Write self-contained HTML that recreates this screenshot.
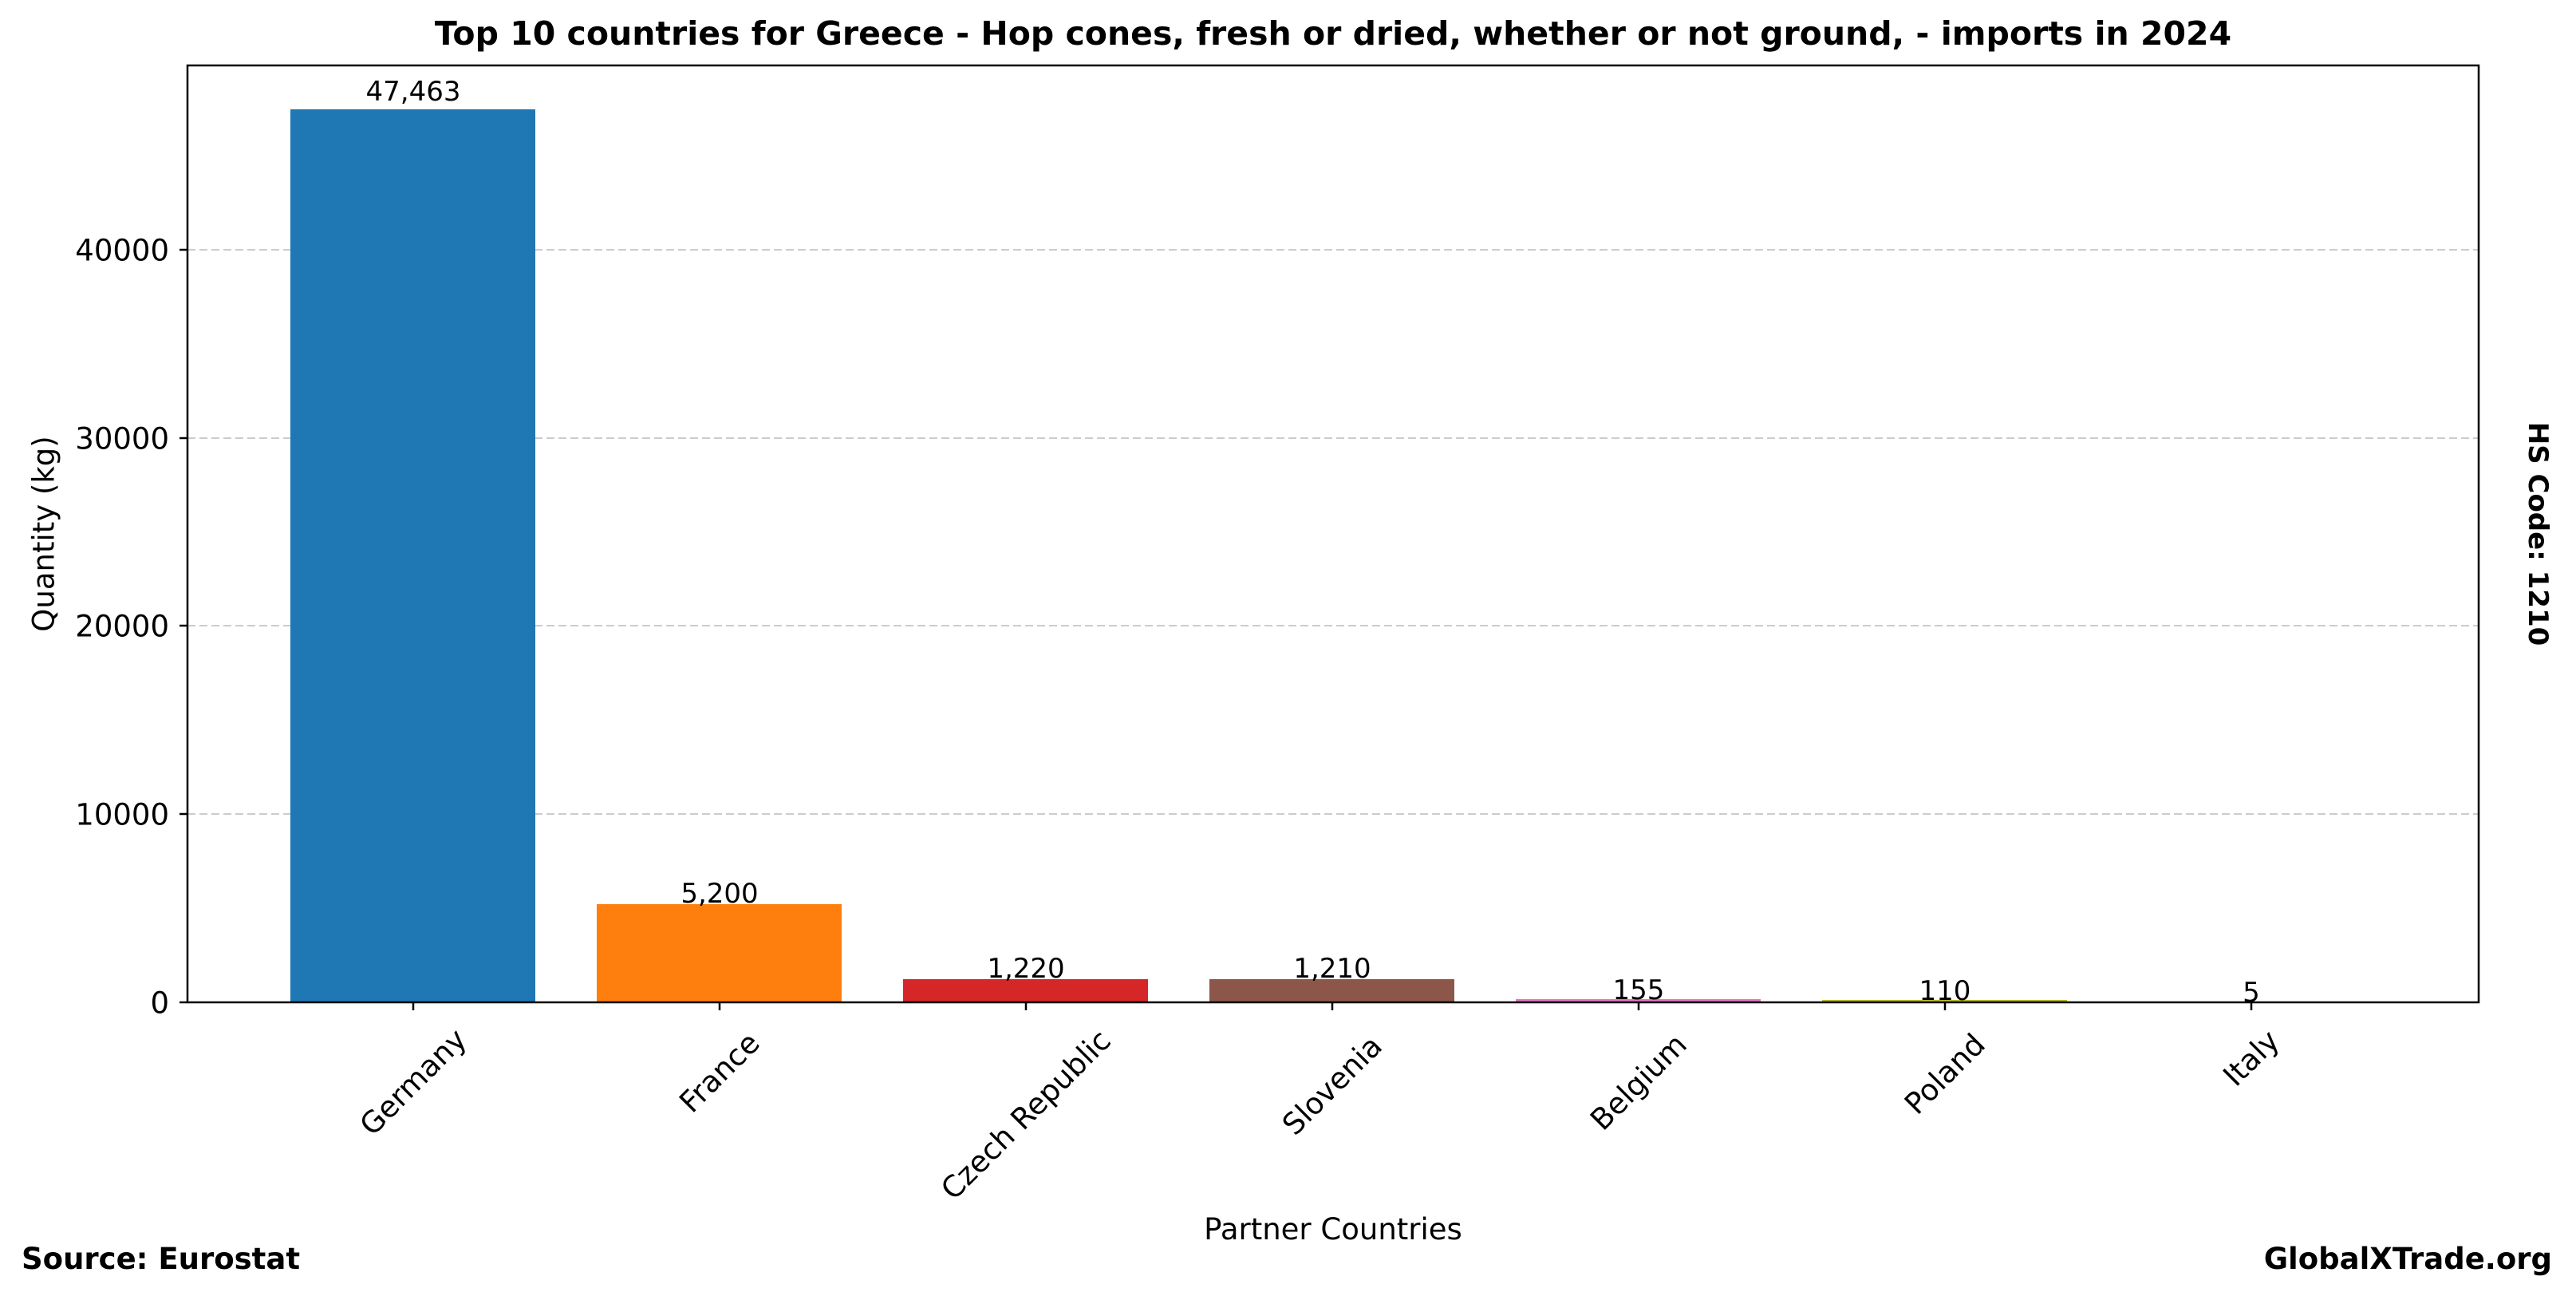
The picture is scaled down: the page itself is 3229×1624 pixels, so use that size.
<!DOCTYPE html>
<html><head><meta charset="utf-8"><style>
html,body{margin:0;padding:0;background:#fff}
svg{display:block}
text{font-family:"DejaVu Sans","Liberation Sans",sans-serif;fill:#000}
</style></head><body>
<svg width="3229" height="1624" viewBox="0 0 3229 1624" xmlns="http://www.w3.org/2000/svg">
<rect width="3229" height="1624" fill="#fff"/>
<text x="1671" y="56" font-size="41" font-weight="bold" text-anchor="middle">Top 10 countries for Greece - Hop cones, fresh or dried, whether or not ground, - imports in 2024</text>
<g stroke="#cccccc" stroke-width="2" stroke-dasharray="10,5">
<line x1="235" y1="1020" x2="3107" y2="1020"/>
<line x1="235" y1="784" x2="3107" y2="784"/>
<line x1="235" y1="549" x2="3107" y2="549"/>
<line x1="235" y1="313" x2="3107" y2="313"/>
</g>
<rect x="364" y="137" width="307" height="1119" fill="#1f77b4"/>
<rect x="748" y="1133" width="307" height="123" fill="#ff7f0e"/>
<rect x="1132" y="1227" width="307" height="29" fill="#d62728"/>
<rect x="1516" y="1227" width="307" height="29" fill="#8c564b"/>
<rect x="1900" y="1252" width="307" height="4" fill="#e377c2"/>
<rect x="2284" y="1253" width="307" height="3" fill="#bcbd22"/>
<rect x="235" y="82" width="2872" height="1174" fill="none" stroke="#000" stroke-width="2.5"/>
<g stroke="#000" stroke-width="2.5">
<line x1="225" y1="1256" x2="235" y2="1256"/>
<line x1="225" y1="1020" x2="235" y2="1020"/>
<line x1="225" y1="784" x2="235" y2="784"/>
<line x1="225" y1="549" x2="235" y2="549"/>
<line x1="225" y1="313" x2="235" y2="313"/>
</g>
<g font-size="37" text-anchor="end" dominant-baseline="central">
<text x="212" y="1257">0</text>
<text x="212" y="1021">10000</text>
<text x="212" y="785">20000</text>
<text x="212" y="550">30000</text>
<text x="212" y="314">40000</text>
</g>
<g stroke="#000" stroke-width="2.5">
<line x1="518" y1="1256" x2="518" y2="1266"/>
<line x1="902" y1="1256" x2="902" y2="1266"/>
<line x1="1286" y1="1256" x2="1286" y2="1266"/>
<line x1="1670" y1="1256" x2="1670" y2="1266"/>
<line x1="2054" y1="1256" x2="2054" y2="1266"/>
<line x1="2438" y1="1256" x2="2438" y2="1266"/>
<line x1="2822" y1="1256" x2="2822" y2="1266"/>
</g>
<g font-size="37" text-anchor="middle" dominant-baseline="central">
<text transform="translate(518,1356) rotate(-45)">Germany</text>
<text transform="translate(902,1344) rotate(-45)">France</text>
<text transform="translate(1286,1397) rotate(-45)">Czech Republic</text>
<text transform="translate(1670,1360) rotate(-45)">Slovenia</text>
<text transform="translate(2054,1356) rotate(-45)">Belgium</text>
<text transform="translate(2438,1346) rotate(-45)">Poland</text>
<text transform="translate(2822,1326) rotate(-45)">Italy</text>
</g>
<g font-size="34" text-anchor="middle">
<text x="518" y="126">47,463</text>
<text x="902" y="1131">5,200</text>
<text x="1286" y="1225">1,220</text>
<text x="1670" y="1225">1,210</text>
<text x="2054" y="1252">155</text>
<text x="2438" y="1253">110</text>
<text x="2822" y="1255">5</text>
</g>
<text x="1671" y="1553" font-size="37" text-anchor="middle">Partner Countries</text>
<text transform="translate(55,669) rotate(-90)" font-size="37" text-anchor="middle" dominant-baseline="central">Quantity (kg)</text>
<text transform="translate(3181,669) rotate(90)" font-size="34" font-weight="bold" text-anchor="middle" dominant-baseline="central">HS Code: 1210</text>
<text x="27" y="1590" font-size="37" font-weight="bold">Source: Eurostat</text>
<text x="3199" y="1590" font-size="37" font-weight="bold" text-anchor="end">GlobalXTrade.org</text>
</svg>
</body></html>
